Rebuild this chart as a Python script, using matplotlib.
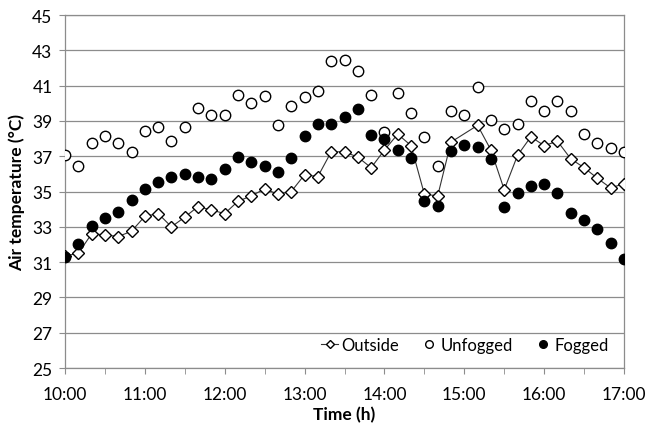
import numpy as np
import matplotlib
matplotlib.use("Agg")
import matplotlib.pyplot as plt
from matplotlib.ticker import MultipleLocator, FuncFormatter

plt.rcParams['font.family'] = ['Lato', 'DejaVu Sans']

# time in hours, one reading every 10 minutes from 10:00 to 17:00
hours = 10 + np.arange(43) / 6.0

outside = [31.35, 31.5, 32.6, 32.55, 32.45, 32.75, 33.6, 33.75, 33.0, 33.55,
           34.15, 33.95, 33.75, 34.45, 34.75, 35.15, 34.85, 35.0, 35.95, 35.85,
           37.25, 37.25, 36.95, 36.35, 37.35, 38.25, 37.6, 34.85, 34.75, 37.8,
           np.nan, 38.75, 37.35, 35.1, 37.05, 38.1, 37.6, 37.85, 36.85, 36.35,
           35.75, 35.2, 35.45]
unfogged = [37.05, 36.45, 37.75, 38.15, 37.75, 37.25, 38.45, 38.65, 37.85, 38.65,
            39.75, 39.35, 39.35, 40.45, 40.0, 40.4, 38.75, 39.85, 40.35, 40.7,
            42.4, 42.45, 41.85, 40.45, 38.4, 40.6, 39.45, 38.1, 36.45, 39.55,
            39.35, 40.9, 39.05, 38.55, 38.85, 40.1, 39.55, 40.1, 39.55, 38.25,
            37.75, 37.45, 37.25]
fogged = [31.3, 32.0, 33.05, 33.5, 33.85, 34.5, 35.15, 35.55, 35.8, 36.0,
          35.8, 35.7, 36.25, 36.95, 36.65, 36.45, 36.1, 36.9, 38.15, 38.85,
          38.8, 39.25, 39.65, 38.2, 38.0, 37.35, 36.9, 34.45, 34.2, 37.3,
          37.65, 37.5, 36.85, 34.15, 34.9, 35.3, 35.4, 34.9, 33.8, 33.4,
          32.9, 32.1, 31.2]
y_ticks = [25, 27, 29, 31, 33, 35, 37, 39, 41, 43, 45]

out = np.array(outside)
ok = ~np.isnan(out)

fig = plt.figure(figsize=(6.48, 4.27), dpi=100)
ax = fig.add_axes([0.1003, 0.1358, 0.8627, 0.8267])

grid_c = '#8c8c8c'
ax.plot(hours[ok], out[ok], color='#333333', lw=0.8, zorder=2)
ax.plot(hours[ok], out[ok], ls='none', marker='D', ms=5.8, mfc='white',
        mec='black', mew=1.0, zorder=3)
ax.plot(hours, unfogged, ls='none', marker='o', ms=7.5, mfc='white',
        mec='black', mew=1.0, zorder=3)
ax.plot(hours, fogged, ls='none', marker='o', ms=7.5, mfc='black',
        mec='black', mew=1.0, zorder=4)

# legend proxies
h1, = ax.plot([], [], color='#333333', lw=0.8, marker='D', ms=4.5, mfc='white',
              mec='black', label='Outside')
h2, = ax.plot([], [], ls='none', marker='o', ms=5.5, mfc='white', mec='black',
              label='Unfogged')
h3, = ax.plot([], [], ls='none', marker='o', ms=5.5, mfc='black', mec='black',
              label='Fogged')
ax.legend(handles=[h1, h2, h3], loc='lower right', ncol=3, frameon=False,
          fontsize=12, handlelength=1.0, handletextpad=0.2, columnspacing=1.3,
          bbox_to_anchor=(1.0, 0.0), borderaxespad=0.5)

ax.set_xlim(10, 17)
ax.set_ylim(25, 45)
ax.xaxis.set_major_locator(MultipleLocator(1))
ax.xaxis.set_minor_locator(MultipleLocator(0.5))
ax.xaxis.set_major_formatter(FuncFormatter(lambda v, p: '%d:00' % round(v)))
ax.set_yticks(y_ticks)
ax.grid(axis='y', color=grid_c, lw=0.9)
ax.set_axisbelow(True)

for s in ax.spines.values():
    s.set_color(grid_c)
    s.set_linewidth(0.9)

ax.tick_params(axis='both', which='both', direction='out', color=grid_c,
               length=4, labelsize=12.5, labelcolor='black')
ax.tick_params(axis='x', pad=9)
ax.tick_params(axis='y', pad=5)

ax.set_xlabel('Time (h)', fontsize=12.5, fontweight='bold', labelpad=3)
ax.set_ylabel('Air temperature (°C)', fontsize=12.5, fontweight='bold',
              labelpad=5)

fig.savefig('out.png', dpi=100)
